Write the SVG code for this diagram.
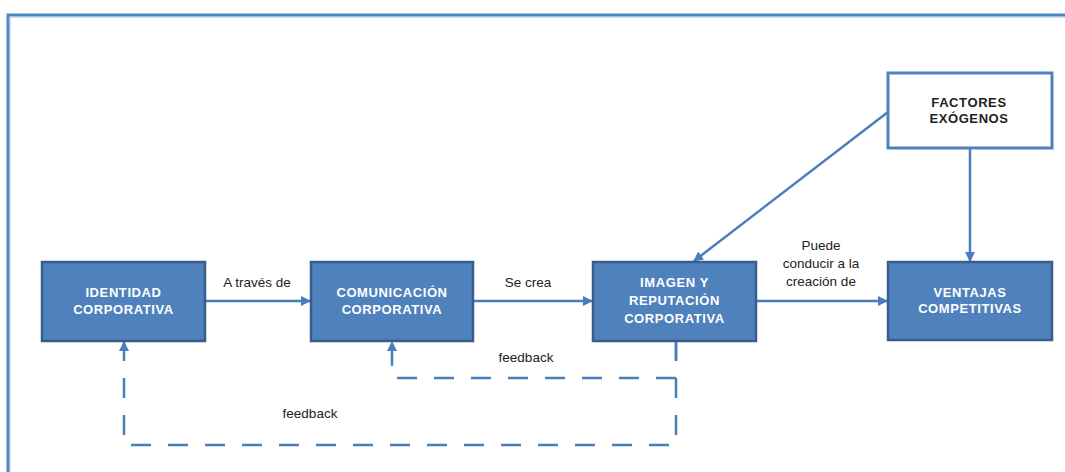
<svg xmlns="http://www.w3.org/2000/svg" width="1065" height="472" viewBox="0 0 1065 472">
  <defs>
    <marker id="arrow" viewBox="0 0 10 10" refX="9" refY="5" markerWidth="4" markerHeight="4" orient="auto" markerUnits="strokeWidth">
      <path d="M0,0 L10,5 L0,10 z" fill="#4a7ebb"/>
    </marker>
    <style>
      .box { fill: #4f81bd; stroke: #385d8a; stroke-width: 2.5; }
      .box-white { fill: #ffffff; stroke: #4f81bd; stroke-width: 3; }
      .box-text { font-family: "Liberation Sans", Arial, sans-serif; font-size: 13px; font-weight: bold; fill: #ffffff; text-anchor: middle; letter-spacing: 0.6px; }
      .dark-text { font-family: "Liberation Sans", Arial, sans-serif; font-size: 13px; font-weight: bold; fill: #222222; text-anchor: middle; letter-spacing: 0.6px; }
      .label { font-family: "Liberation Sans", Arial, sans-serif; font-size: 13.5px; fill: #222222; text-anchor: middle; }
      .link { fill: none; stroke: #4a7ebb; stroke-width: 2.5; }
      .dashed { stroke-dasharray: 20 17; }
    </style>
  </defs>

  <rect width="1065" height="472" fill="#ffffff"/>

  <!-- outer frame -->
  <path d="M8,472 L8,15 L1065,15" fill="none" stroke="#4f86c6" stroke-width="3"/>
  <path d="M10,472 L10,17 L1065,17" fill="none" stroke="#9cc2ea" stroke-width="1"/>

  <!-- connectors -->
  <g id="connectors">
    <line class="link" x1="205" y1="301" x2="310" y2="301" marker-end="url(#arrow)"/>
    <line class="link" x1="473" y1="301" x2="592" y2="301" marker-end="url(#arrow)"/>
    <line class="link" x1="756" y1="301" x2="887" y2="301" marker-end="url(#arrow)"/>
    <line class="link" x1="888" y1="112" x2="694" y2="261" marker-end="url(#arrow)"/>
    <line class="link" x1="970" y1="148" x2="970" y2="261" marker-end="url(#arrow)"/>
    <!-- feedback loops -->
    <path class="link dashed" d="M676,341 L676,378 L392,378 L392,342" marker-end="url(#arrow)"/>
    <path class="link dashed" d="M676,341 L676,445 L124,445 L124,342" marker-end="url(#arrow)"/>
    <text class="label" x="257" y="287">A través de</text>
    <text class="label" x="528" y="287">Se crea</text>
    <text class="label" x="821" y="250">Puede</text>
    <text class="label" x="821" y="268">conducir a la</text>
    <text class="label" x="821" y="286">creación de</text>
    <text class="label" x="526" y="362">feedback</text>
    <text class="label" x="310" y="418">feedback</text>
  </g>

  <g id="identidad">
    <rect class="box" x="42" y="262" width="163" height="79"/>
    <text class="box-text" x="123.5" y="297">IDENTIDAD</text>
    <text class="box-text" x="123.5" y="314">CORPORATIVA</text>
  </g>

  <g id="comunicacion">
    <rect class="box" x="311" y="262" width="162" height="79"/>
    <text class="box-text" x="392" y="297">COMUNICACIÓN</text>
    <text class="box-text" x="392" y="314">CORPORATIVA</text>
  </g>

  <g id="imagen">
    <rect class="box" x="593" y="262" width="163" height="79"/>
    <text class="box-text" x="674.5" y="287">IMAGEN Y</text>
    <text class="box-text" x="674.5" y="305">REPUTACIÓN</text>
    <text class="box-text" x="674.5" y="323">CORPORATIVA</text>
  </g>

  <g id="ventajas">
    <rect class="box" x="888" y="262" width="164" height="78"/>
    <text class="box-text" x="970" y="297">VENTAJAS</text>
    <text class="box-text" x="970" y="313">COMPETITIVAS</text>
  </g>

  <g id="factores">
    <rect class="box-white" x="888" y="73" width="164" height="75"/>
    <text class="dark-text" x="969" y="107">FACTORES</text>
    <text class="dark-text" x="969" y="123">EXÓGENOS</text>
  </g>
</svg>
